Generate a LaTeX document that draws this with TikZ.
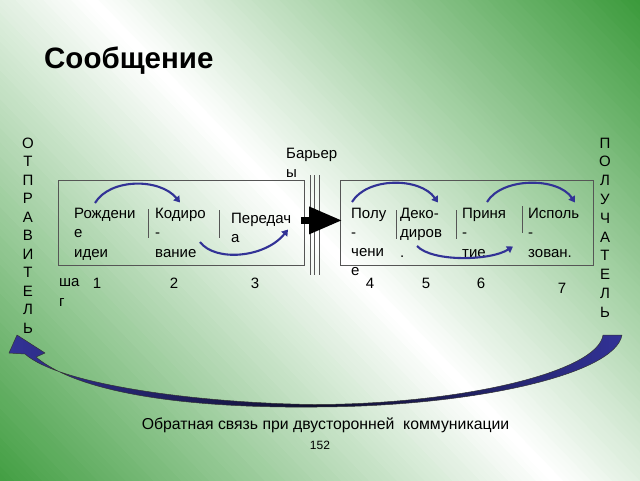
\documentclass[tikz,border=0pt]{standalone}
\usepackage{fontspec}
\setmainfont{Liberation Sans}
\usetikzlibrary{arrows.meta}
\definecolor{gdark}{RGB}{58,154,58}
\definecolor{gleft}{RGB}{66,158,66}
\definecolor{arrblue}{RGB}{50,50,150}
\definecolor{boxgray}{RGB}{85,85,85}
\newcommand\ct{\vphantom{Р}}
\tikzset{
  txt/.style={font=\fontsize{15}{19.5}\selectfont, inner sep=0pt, anchor=north west, align=left, text=black},
  num/.style={font=\fontsize{15}{18}\selectfont, inner sep=0pt, anchor=base, text=black},
  vlet/.style={inner sep=0pt, anchor=north, align=center, text=black},
  frame/.style={draw=boxgray, line width=0.8pt, inner sep=0pt, anchor=north west},
  sepline/.style={draw=boxgray, line width=0.8pt},
  barline/.style={draw=boxgray, line width=0.6pt},
  carr/.style={draw=arrblue, line width=2.1pt, -{Triangle[length=6pt,width=7.5pt]}},
  bigarr/.style={draw=black, line width=6.5pt, -{Triangle[length=33pt,width=26pt]}},
  fback/.style={left color=arrblue, right color=arrblue, middle color=black!70!arrblue, draw=black!80, line width=0.5pt, line join=round}
}
\begin{document}
\begin{tikzpicture}[x=1pt,y=-1pt]
\useasboundingbox (0,0) rectangle (640,480);
% background gradient
\begin{scope}
\clip (0,0) rectangle (640,480);
\foreach \i in {0,...,159}{
  \pgfmathsetmacro\sa{-334+\i*5}
  \pgfmathsetmacro\sb{\sa+6}
  \pgfmathsetmacro\sm{\sa+2.5}
  \ifdim\sm pt<65pt
    \pgfmathtruncatemacro\f{min(100,(65-\sm)/3.99)}
    \def\cc{gleft}
  \else
    \pgfmathtruncatemacro\f{min(100,(\sm-65)/3.95)}
    \def\cc{gdark}
  \fi
  \fill[\cc!\f!white] ({\sa*0.719-69.5},{-\sa*0.695-71.9}) -- ({\sa*0.719+625.5},{-\sa*0.695+647.1})
     -- ({\sb*0.719+625.5},{-\sb*0.695+647.1}) -- ({\sb*0.719-69.5},{-\sb*0.695-71.9}) -- cycle;
}
\end{scope}

% title
\node[inner sep=0pt, anchor=base west, font=\fontsize{29.5}{33}\selectfont\bfseries] (title) at (44,68.5) {Сообщение};

% vertical words
\node[vlet, font=\fontsize{15}{18.5}\selectfont] (sender) at (28,137.6) {\ct О\\Т\\П\\Р\\А\\В\\И\\Т\\Е\\Л\\Ь};
\node[vlet, font=\fontsize{15}{18.8}\selectfont] (receiver) at (605,137.6) {\ct П\\О\\Л\\У\\Ч\\А\\Т\\Е\\Л\\Ь};

% boxes
\node[frame, minimum width=246pt, minimum height=85pt] (lbox) at (58,180) {};
\node[frame, minimum width=253pt, minimum height=85pt] (rbox) at (340,180) {};

% separators
\draw[sepline] (148,209) -- (148,238);
\draw[sepline] (219,210) -- (219,238);
\draw[sepline] (396,210) -- (396,239);
\draw[sepline] (456,210) -- (456,239);
\draw[sepline] (522,206) -- (522,233);

% barrier
\draw[barline] (310,175) -- (310,275);
\draw[barline] (314.5,175) -- (314.5,275);
\draw[barline] (319,175) -- (319,275);
\node[txt] (barrier) at (286,147.5) {\ct Барьер\\ы};

% step texts
\node[txt] (s1) at (74,207.5) {\ct Рождени\\е\\идеи};
\node[txt] (s2) at (155,207.5) {\ct Кодиро\\-\\вание};
\node[txt, font=\fontsize{15}{19}\selectfont] (s3) at (231,212.5) {\ct Передач\\а};
\node[txt, font=\fontsize{15}{19.3}\selectfont] (s4) at (351,207.5) {\ct Полу\\-\\чени\\е};
\node[txt] (s5) at (400,207.5) {\ct Деко-\\диров\\.};
\node[txt] (s6) at (462,207.5) {\ct Приня\\-\\тие};
\node[txt] (s7) at (528,207.5) {\ct Исполь\\-\\зован.};

% step numbers
\node[txt] (step) at (59,276.3) {\ct ша\\г};
\node[num] (n1) at (97,288.5) {1};
\node[num] (n2) at (174,288.5) {2};
\node[num] (n3) at (255,288.5) {3};
\node[num] (n4) at (370,288.5) {4};
\node[num] (n5) at (426,288.5) {5};
\node[num] (n6) at (481,288.5) {6};
\node[num] (n7) at (562,293.5) {7};

% big arrow through barrier
\draw[bigarr] ([xshift=-4pt,yshift=2.5pt]lbox.east) -- ([xshift=2pt,yshift=2.5pt]rbox.west);

% small curved arrows
\coordinate (a1s) at (95,203);  \coordinate (a1e) at (180,202.5);
\coordinate (a2s) at (200,242); \coordinate (a2e) at (288,229.5);
\coordinate (a3s) at (352,202); \coordinate (a3e) at (438,202.5);
\coordinate (a4s) at (417,246); \coordinate (a4e) at (513,246.5);
\coordinate (a5s) at (487,202); \coordinate (a5e) at (575,202.5);
\draw[carr] (a1s) .. controls (110,178) and (160,178) .. (a1e);
\draw[carr] (a2s) .. controls (215,262) and (265,258) .. (a2e);
\draw[carr] (a3s) .. controls (367,177) and (420,177) .. (a3e);
\draw[carr] (a4s) .. controls (432,262) and (490,261) .. (a4e);
\draw[carr] (a5s) .. controls (502,177) and (558,177) .. (a5e);

% feedback arrow
\shade[fback] (603,335) -- (622,335) .. controls (615,375) and (470,407) .. (313,407)
  .. controls (210,408) and (85,398) .. (36,357) -- (45,353) -- (17,335) -- (9,353) -- (25,354)
  .. controls (60,385) and (200,403) .. (313,404.5) .. controls (460,404.5) and (598,372) .. (603,335) -- cycle;

% bottom texts
\node[inner sep=0pt, anchor=base, font=\fontsize{15.8}{18}\selectfont] (fbtext) at (325.5,429) {Обратная связь при двусторонней\ \ коммуникации};
\node[inner sep=0pt, anchor=base, font=\fontsize{12}{14}\selectfont] (page) at (320,449.5) {152};
\end{tikzpicture}
\end{document}
